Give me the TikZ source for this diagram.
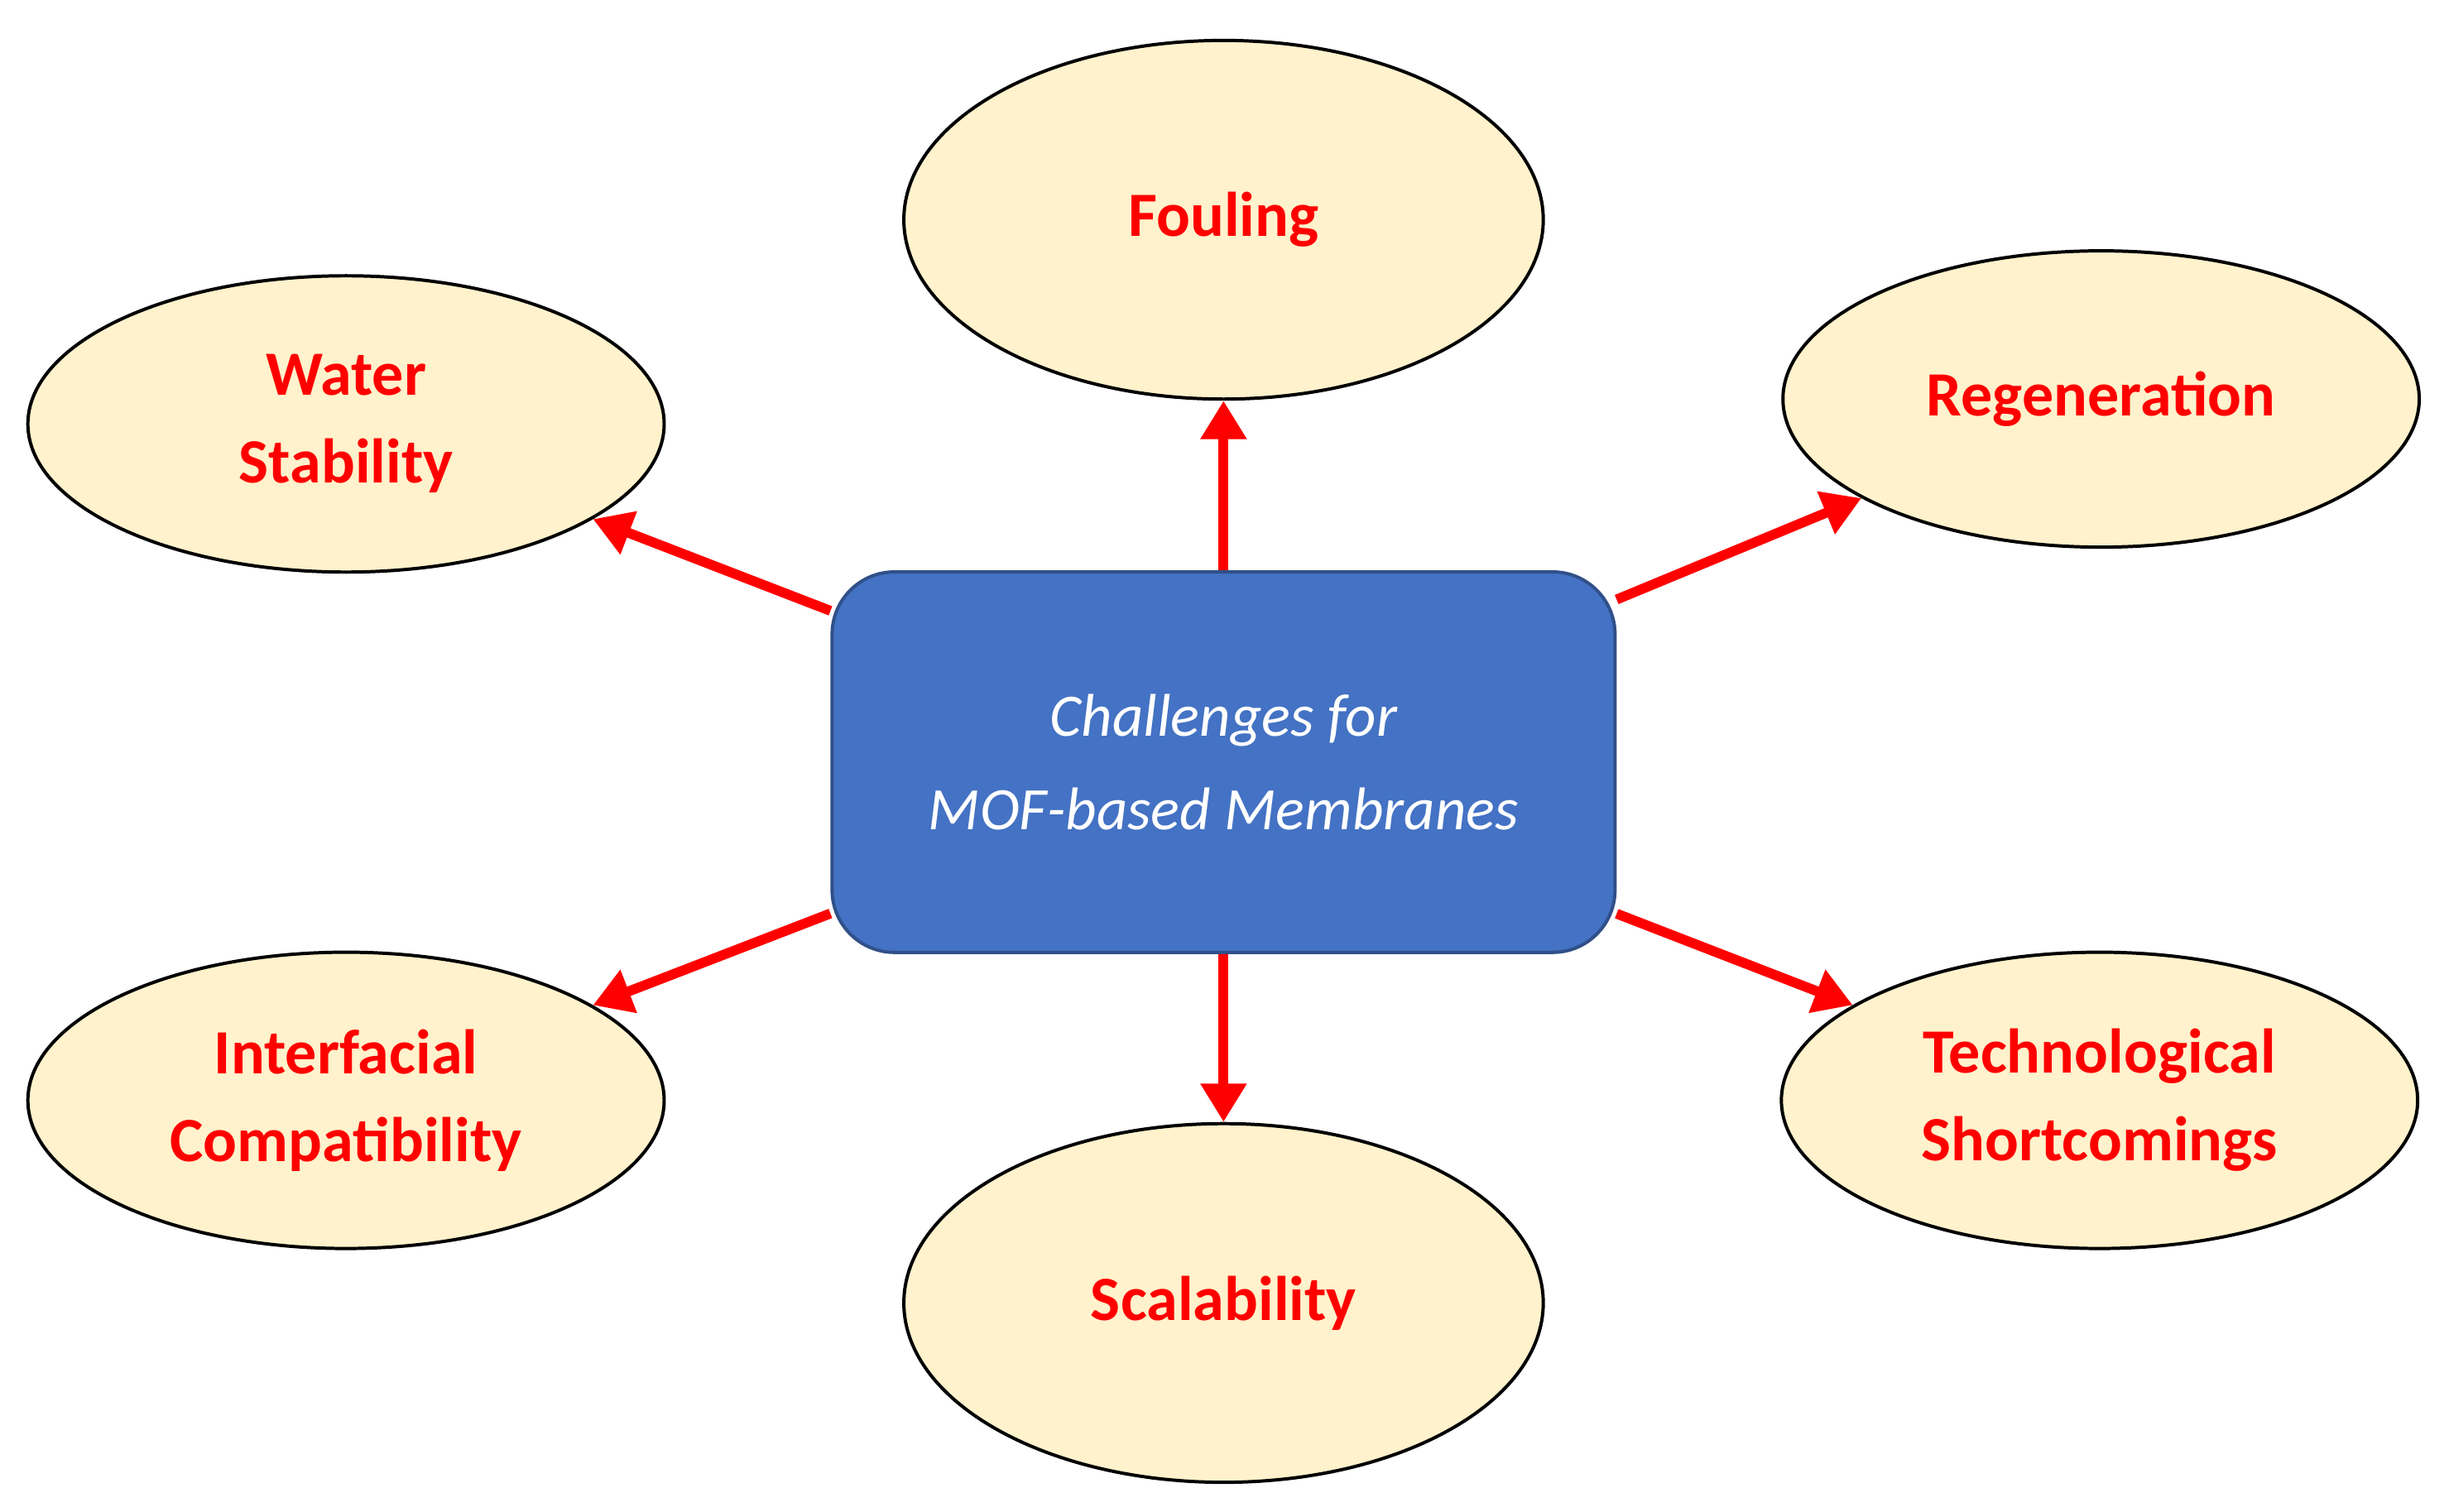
\documentclass[tikz,border=0pt]{standalone}
\usepackage{fontspec}
\setmainfont{Carlito}
\usetikzlibrary{shapes.geometric,arrows.meta}
\begin{document}
\begin{tikzpicture}[x=0.01cm,y=-0.01cm,
 ell/.style={ellipse,draw=black,line width=0.6pt,fill=yellow!20!orange!15!white,fill=ellfill,minimum width=408\pgflinewidth,text=red,font=\fontsize{11.5}{14}\selectfont\bfseries,align=center,inner sep=0pt},
 arr/.style={draw=red,line width=1.8pt,-{Triangle[length=7pt,width=8pt]}}]
\definecolor{ellfill}{HTML}{FFF2CC}
\definecolor{boxfill}{HTML}{4472C4}
\useasboundingbox (0,0) rectangle (1568,970);
\tikzset{big/.style={ell,minimum width=4.1cm,minimum height=2.3cm},
 small/.style={ell,minimum width=4.08cm,minimum height=1.9cm}}
\node[big] (foul) at (785,141) {Fouling};
\node[big] (scal) at (785,836) {Scalability};
\node[small] (water) at (222,272) {Water\\[2pt]Stability};
\node[small] (regen) at (1348,256) {Regeneration};
\node[small] (inter) at (222,706) {Interfacial\\[2pt]Compatibility};
\node[small] (tech) at (1347,706) {Technological\\[2pt]Shortcomings};
\node[rounded corners=0.4cm,draw=boxfill!70!black,line width=0.6pt,fill=boxfill,minimum width=5.02cm,minimum height=2.44cm,text=white,font=\fontsize{11}{15}\selectfont\itshape,align=center] (box) at (785,489) {Challenges for\\[2pt]MOF-based Membranes};
\draw[arr] (box.north) -- (foul.south);
\draw[arr] (box.south) -- (scal.north);
\draw[arr] (box) -- (water);
\draw[arr] (box) -- (regen);
\draw[arr] (box) -- (inter);
\draw[arr] (box) -- (tech);
\end{tikzpicture}
\end{document}
